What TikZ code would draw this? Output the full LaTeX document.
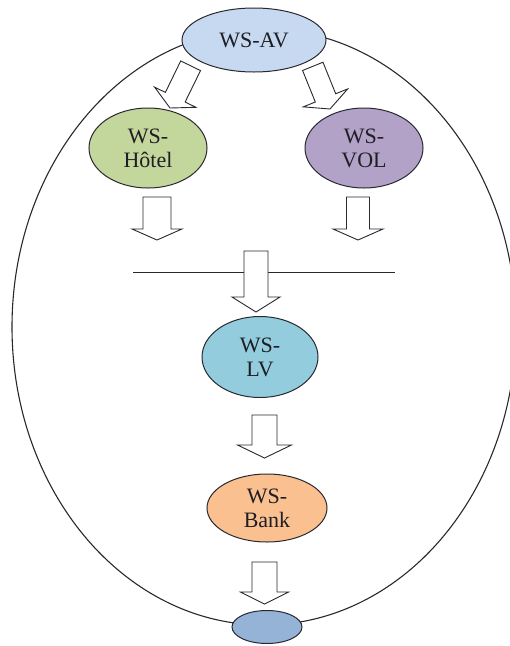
\documentclass[tikz,border=0pt]{standalone}
\usepackage{fontspec}
\setmainfont{Liberation Serif}
\usetikzlibrary{shapes.geometric}
\definecolor{avfill}{RGB}{198,217,241}
\definecolor{hotelfill}{RGB}{195,214,155}
\definecolor{volfill}{RGB}{179,162,199}
\definecolor{lvfill}{RGB}{147,205,221}
\definecolor{bankfill}{RGB}{250,192,144}
\definecolor{endfill}{RGB}{149,179,215}
\definecolor{rim}{RGB}{40,40,48}
\definecolor{ink}{RGB}{30,30,36}
\tikzset{
  service/.style={ellipse, draw=rim, line width=1pt, inner sep=0pt,
    text=ink, align=center,
    font=\fontsize{22}{24}\selectfont},
  blockarrow/.pic={
    % hollow block arrow, tip at the origin, pointing down
    \draw[fill=white, draw=rim, line width=0.9pt, line join=miter]
      (0,0) -- (-\ah,-\hl) -- (-\aw,-\hl) -- (-\aw,-\al)
      -- (\aw,-\al) -- (\aw,-\hl) -- (\ah,-\hl) -- cycle;
  },
  arrowdims/.code args={#1/#2/#3/#4}{%
    \def\aw{#1}\def\ah{#2}\def\hl{#3}\def\al{#4}},
}
\begin{document}
\begin{tikzpicture}[x=1pt,y=-1pt]
\useasboundingbox (0,0) rectangle (510,646);

% enclosing ellipse, running past the right border
\begin{scope}
  \clip (0,0) rectangle (510,646);
  \draw[rim, line width=1.1pt] (264,327) ellipse [x radius=252, y radius=298];
\end{scope}

% separator line
\coordinate (sepL) at (133,272);
\coordinate (sepR) at (395,272);
\draw[rim, line width=1pt] (sepL) -- (sepR);

% services
\node[service, fill=avfill, minimum width=144pt, minimum height=64pt] (av) at (254,40) {WS-AV};
\node[service, fill=hotelfill, minimum width=118pt, minimum height=80pt] (hotel) at (148,148) {WS-\\Hôtel};
\node[service, fill=volfill, minimum width=118pt, minimum height=80pt] (vol) at (364,148) {WS-\\VOL};
\node[service, fill=lvfill, minimum width=116pt, minimum height=81pt] (lv) at (260,357) {WS-\\LV};
\node[service, fill=bankfill, minimum width=120pt, minimum height=68pt] (bank) at (267,508) {WS-\\Bank};
\node[service, fill=endfill, minimum width=70pt, minimum height=33pt] (end) at (267,627) {};

% flow arrows
\begin{scope}[arrowdims={11/23/12/47}]
  \pic[rotate=-26] at (170,108) {blockarrow};
\end{scope}
\begin{scope}[arrowdims={11/24/12/46}]
  \pic[rotate=22] at (330,109) {blockarrow};
\end{scope}
\begin{scope}[arrowdims={14/25/11/43}]
  \pic at (157,240) {blockarrow};
\end{scope}
\begin{scope}[arrowdims={11.5/25/11/43}]
  \pic at (358,240) {blockarrow};
\end{scope}
\begin{scope}[arrowdims={12/24/15/61}]
  \pic at (256,312) {blockarrow};
\end{scope}
\begin{scope}[arrowdims={12.5/27/13/43}]
  \pic at (264.5,458) {blockarrow};
\end{scope}
\begin{scope}[arrowdims={12.5/24/12/42}]
  \pic at (264.5,604) {blockarrow};
\end{scope}
\end{tikzpicture}
\end{document}
